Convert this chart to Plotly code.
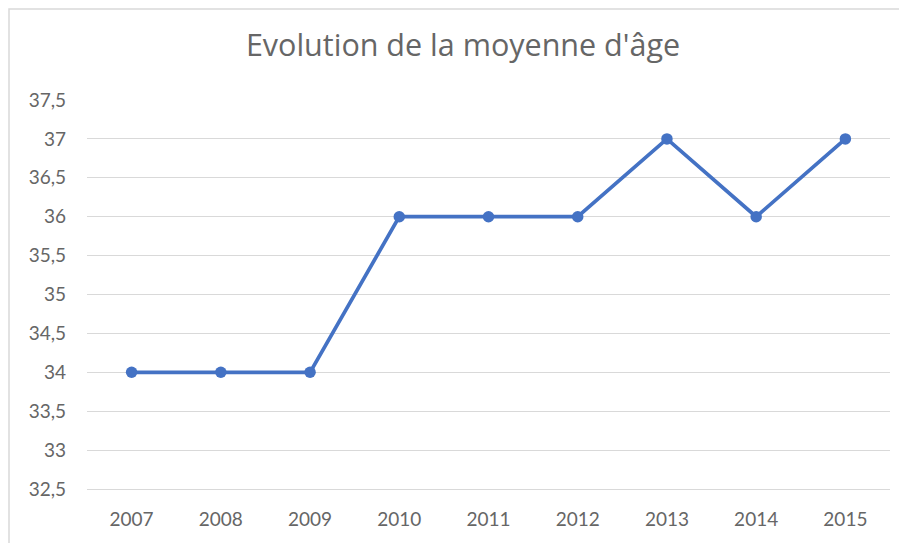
import plotly.graph_objects as go

years = ["2007", "2008", "2009", "2010", "2011", "2012", "2013", "2014", "2015"]
mean_age = [34, 34, 34, 36, 36, 36, 37, 36, 37]
y_ticks = [32.5, 33, 33.5, 34, 34.5, 35, 35.5, 36, 36.5, 37, 37.5]

# the page adds an 8px body margin, so the figure starts at (8, 8)
W, H = 907, 543
L, R, T, B = 79, 25, 92, 62
pw, ph = W - L - R, H - T - B

fig = go.Figure(go.Scatter(
    x=years, y=mean_age, mode="lines+markers",
    line=dict(color="#4472C4", width=3.7),
    marker=dict(color="#4472C4", size=11.5),
    hoverinfo="skip",
))

tick_font = "Lato, 'Open Sans', sans-serif"
title_font = "'Open Sans', Lato, sans-serif"
fig.update_layout(
    width=W, height=H,
    margin=dict(l=L, r=R, t=T, b=B),
    paper_bgcolor="white", plot_bgcolor="white",
    separators=", ",
    showlegend=False,
    title=dict(text="Evolution de la moyenne d'âge", x=(463 - 8) / W, xanchor="center",
               y=1 - 37 / H, yanchor="middle",
               font=dict(family=title_font, size=30.5, color="#666666")),
    xaxis=dict(type="category", range=[-0.5, 8.5], showgrid=False,
               showline=True, linecolor="#D9D9D9", linewidth=1,
               tickfont=dict(family=tick_font, size=19, color="#666666"),
               ticks="", ticklabelstandoff=13, zeroline=False),
    yaxis=dict(range=[32.5, 37.5], tickvals=y_ticks, showgrid=True,
               gridcolor="#D9D9D9", gridwidth=1, zeroline=False,
               tickfont=dict(family=tick_font, size=19, color="#666666"),
               ticks="", ticklabelstandoff=20, showline=False),
    shapes=[dict(type="rect", xref="paper", yref="paper",
                 x0=(1 - L) / pw, x1=(895 - L) / pw,
                 y0=-(B + 10) / ph, y1=(T + ph - 1) / ph,
                 line=dict(color="#D9D9D9", width=1.5), layer="below")],
)

fig.write_html("out.html")
